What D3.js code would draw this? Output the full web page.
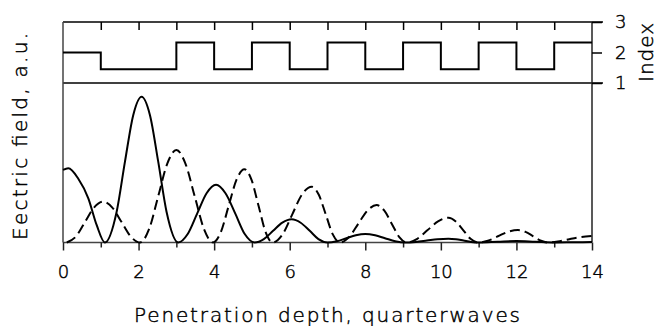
<!DOCTYPE html>
<html>
<head>
<meta charset="utf-8">
<script src="https://cdn.jsdelivr.net/npm/d3@7"></script>
<style>
  html, body { margin: 0; padding: 0; background: #fff; }
  svg { display: block; }
  text { font-family: "DejaVu Sans", sans-serif; font-weight: 200; fill: #000; stroke: #000; stroke-width: 0.45px; }
</style>
</head>
<body>
<svg id="chart" width="658" height="326"></svg>
<script>
// ---- Data ----
const xTicksMajor = [0, 2, 4, 6, 8, 10, 12, 14];
const xTicksMinor = [1, 3, 5, 7, 9, 11, 13];
const xTicksTop = [1, 2, 3, 4, 5, 6, 7, 8, 9, 10, 11, 12, 13];
const indexTicks = [1, 2, 3];

// Layer boundaries (quarterwaves) and refractive index of each layer
const layerStart = [0, 1, 3, 4, 5, 6, 7, 8, 9, 10, 11, 12, 13, 14];
const layerIndex = [2.0, 1.45, 2.33, 1.45, 2.33, 1.45, 2.33, 1.45, 2.33, 1.45, 2.33, 1.45, 2.33, 2.33];

// Solid curve: field (a.u.) vs depth
const solidX = [0, 0.14, 0.405, 0.67, 0.89, 1.11, 1.42, 1.64, 1.86, 2.08, 2.30, 2.52, 2.74, 3.05,
  3.30, 3.55, 3.80, 4.05, 4.30, 4.56, 4.81, 5.07,
  5.315, 5.56, 5.805, 6.05, 6.29, 6.53, 6.76, 7.0,
  7.25, 7.5, 7.75, 8.0, 8.26, 8.52, 8.79, 9.05,
  9.34, 9.63, 9.91, 10.2, 10.4, 10.6, 10.8, 11.0,
  11.5, 12.0, 12.5, 13.0, 13.5, 14.0];
const solidY = [0.455, 0.465, 0.40, 0.277, 0.11, 0, 0.193, 0.507, 0.80, 0.914, 0.80, 0.507, 0.193, 0,
  0.053, 0.181, 0.309, 0.362, 0.309, 0.181, 0.053, 0,
  0.021, 0.073, 0.124, 0.145, 0.124, 0.073, 0.021, 0,
  0.008, 0.027, 0.045, 0.053, 0.045, 0.027, 0.008, 0,
  0.0035, 0.012, 0.0205, 0.024, 0.0205, 0.012, 0.0035, 0,
  0.0045, 0.009, 0.0045, 0, 0.0015, 0.003];

// Dashed curve
const dashX = [0.1, 0.34, 0.58, 0.82, 1.06, 1.305, 1.55, 1.795, 2.04,
  2.28, 2.52, 2.76, 3.0, 3.24, 3.485, 3.73, 3.97,
  4.18, 4.385, 4.59, 4.8, 4.99, 5.175, 5.36, 5.55,
  5.81, 6.065, 6.32, 6.58, 6.77, 6.955, 7.14, 7.33,
  7.57, 7.815, 8.06, 8.3, 8.5, 8.7, 8.9, 9.1,
  9.375, 9.65, 9.925, 10.2, 10.395, 10.59, 10.785, 10.98,
  11.245, 11.51, 11.775, 12.04, 12.24, 12.445, 12.65, 12.85,
  13.1, 13.4, 13.7, 14.0];
const dashY = [0, 0.037, 0.128, 0.219, 0.256, 0.219, 0.128, 0.037, 0,
  0.085, 0.29, 0.495, 0.58, 0.495, 0.29, 0.085, 0,
  0.067, 0.23, 0.392, 0.459, 0.392, 0.23, 0.067, 0,
  0.051, 0.175, 0.299, 0.35, 0.299, 0.175, 0.051, 0,
  0.034, 0.118, 0.201, 0.235, 0.201, 0.118, 0.034, 0,
  0.023, 0.078, 0.132, 0.155, 0.132, 0.078, 0.023, 0,
  0.011, 0.039, 0.067, 0.078, 0.067, 0.039, 0.011, 0,
  0.006, 0.021, 0.034, 0.041];

// ---- Layout ----
const svg = d3.select("#chart");
const left = 63, right = 592;
const topTop = 22, topBottom = 83, bottomBottom = 242.5;

const x = d3.scaleLinear().domain([0, 14]).range([left, right]);
const yIdx = d3.scaleLinear().domain([1, 3]).range([topBottom, topTop]);
const yF = d3.scaleLinear().domain([0, 1]).range([bottomBottom, topBottom]);

// Frame lines
const g = svg.append("g");
g.append("line").attr("x1", left).attr("x2", right + 11).attr("y1", topTop).attr("y2", topTop)
  .attr("stroke", "#000").attr("stroke-width", 1.5);
g.append("line").attr("x1", left).attr("x2", right + 11).attr("y1", topBottom).attr("y2", topBottom)
  .attr("stroke", "#000").attr("stroke-width", 1.5);
g.append("line").attr("x1", left).attr("x2", left).attr("y1", topTop).attr("y2", bottomBottom)
  .attr("stroke", "#444").attr("stroke-width", 1.5);
g.append("line").attr("x1", right).attr("x2", right).attr("y1", topTop).attr("y2", bottomBottom)
  .attr("stroke", "#222").attr("stroke-width", 1.5);
g.append("line").attr("x1", left).attr("x2", right).attr("y1", bottomBottom).attr("y2", bottomBottom)
  .attr("stroke", "#444").attr("stroke-width", 1.5);

// Bottom x axis: major ticks with labels
const axMajor = d3.axisBottom(x).tickValues(xTicksMajor).tickSize(8).tickPadding(15).tickFormat(d3.format("d"));
const gMaj = svg.append("g").attr("transform", `translate(0,${bottomBottom})`).call(axMajor);
gMaj.select(".domain").remove();
gMaj.selectAll(".tick line").attr("stroke", "#222").attr("stroke-width", 1.5);
gMaj.selectAll(".tick text").attr("font-size", 18).attr("font-family", "DejaVu Sans").attr("font-weight", 200);

const axMinor = d3.axisBottom(x).tickValues(xTicksMinor).tickSize(5).tickFormat("");
const gMin = svg.append("g").attr("transform", `translate(0,${bottomBottom})`).call(axMinor);
gMin.select(".domain").remove();
gMin.selectAll(".tick line").attr("stroke", "#222").attr("stroke-width", 1.5);

// Top panel inward ticks
const axTop = d3.axisBottom(x).tickValues(xTicksTop).tickSize(8).tickFormat("");
const gTop = svg.append("g").attr("transform", `translate(0,${topTop})`).call(axTop);
gTop.select(".domain").remove();
gTop.selectAll(".tick line").attr("stroke", "#000").attr("stroke-width", 1.5);

// Right index axis
const axRight = d3.axisRight(yIdx).tickValues(indexTicks).tickSize(10).tickPadding(13).tickFormat(d3.format("d"));
const gR = svg.append("g").attr("transform", `translate(${right},0)`).call(axRight);
gR.select(".domain").remove();
gR.selectAll(".tick line").attr("stroke", "#000").attr("stroke-width", 1.5);
gR.selectAll(".tick text").attr("font-size", 18).attr("font-family", "DejaVu Sans").attr("font-weight", 200);

// Index step profile
const stepData = layerStart.map((s, i) => ({ x: s, n: layerIndex[i] }));
svg.append("path")
  .datum(stepData)
  .attr("fill", "none")
  .attr("stroke", "#000")
  .attr("stroke-width", 2)
  .attr("d", d3.line().x(d => x(d.x)).y(d => yIdx(d.n)).curve(d3.curveStepAfter));

// Field curves
const lineGen = d3.line().x(d => x(d[0])).y(d => yF(d[1])).curve(d3.curveMonotoneX);
svg.append("path")
  .datum(solidX.map((v, i) => [v, solidY[i]]))
  .attr("fill", "none").attr("stroke", "#000").attr("stroke-width", 2)
  .attr("d", lineGen);
svg.append("path")
  .datum(dashX.map((v, i) => [v, dashY[i]]))
  .attr("fill", "none").attr("stroke", "#000").attr("stroke-width", 2)
  .attr("stroke-dasharray", "10,5")
  .attr("d", lineGen);

// Titles
svg.append("text")
  .attr("x", 327).attr("y", 321.5)
  .attr("text-anchor", "middle")
  .attr("font-size", 20)
  .attr("textLength", 386).attr("lengthAdjust", "spacing")
  .text("Penetration depth, quarterwaves");

svg.append("text")
  .attr("transform", "translate(26.5,136.5) rotate(-90)")
  .attr("text-anchor", "middle")
  .attr("font-size", 20)
  .attr("textLength", 207).attr("lengthAdjust", "spacing")
  .text("Eectric field, a.u.");

svg.append("text")
  .attr("transform", "translate(653,52.5) rotate(-90)")
  .attr("text-anchor", "middle")
  .attr("font-size", 20)
  .attr("textLength", 59).attr("lengthAdjust", "spacing")
  .text("Index");
</script>
</body>
</html>
